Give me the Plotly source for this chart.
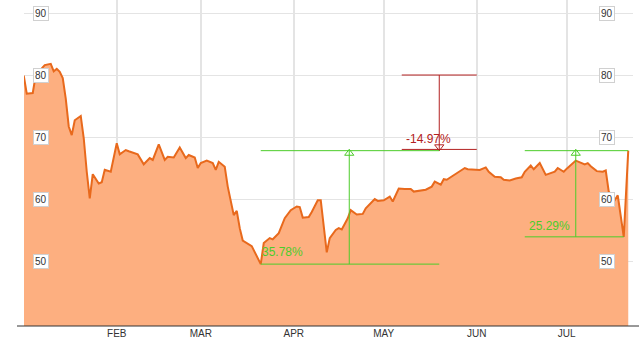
import plotly.graph_objects as go

# ---------------- data ----------------
dates = [
    "2015-01-01", "2015-01-02", "2015-01-04", "2015-01-05", "2015-01-08", "2015-01-10",
    "2015-01-11", "2015-01-12", "2015-01-13", "2015-01-14", "2015-01-15", "2015-01-16",
    "2015-01-17", "2015-01-18", "2015-01-20", "2015-01-21", "2015-01-22", "2015-01-23",
    "2015-01-24", "2015-01-26", "2015-01-27", "2015-01-28", "2015-01-30", "2015-02-01",
    "2015-02-02", "2015-02-04", "2015-02-05", "2015-02-08", "2015-02-10", "2015-02-12",
    "2015-02-13", "2015-02-15", "2015-02-17", "2015-02-18", "2015-02-20", "2015-02-22",
    "2015-02-24", "2015-02-25", "2015-02-27", "2015-02-28", "2015-03-01", "2015-03-03",
    "2015-03-05", "2015-03-06", "2015-03-07", "2015-03-09", "2015-03-10", "2015-03-12",
    "2015-03-13", "2015-03-14", "2015-03-15", "2015-03-17", "2015-03-18", "2015-03-21",
    "2015-03-22", "2015-03-24", "2015-03-25", "2015-03-27", "2015-03-29", "2015-03-31",
    "2015-04-02", "2015-04-03", "2015-04-04", "2015-04-06", "2015-04-07", "2015-04-09",
    "2015-04-10", "2015-04-12", "2015-04-13", "2015-04-15", "2015-04-16", "2015-04-17",
    "2015-04-19", "2015-04-20", "2015-04-22", "2015-04-24", "2015-04-25", "2015-04-28",
    "2015-04-29", "2015-05-01", "2015-05-03", "2015-05-04", "2015-05-06", "2015-05-08",
    "2015-05-10", "2015-05-11", "2015-05-13", "2015-05-15", "2015-05-17", "2015-05-18",
    "2015-05-20", "2015-05-21", "2015-05-22", "2015-05-24", "2015-05-26", "2015-05-28",
    "2015-05-29", "2015-05-31", "2015-06-02", "2015-06-04", "2015-06-05", "2015-06-07",
    "2015-06-09", "2015-06-10", "2015-06-12", "2015-06-14", "2015-06-16", "2015-06-17",
    "2015-06-19", "2015-06-20", "2015-06-22", "2015-06-24", "2015-06-25", "2015-06-27",
    "2015-06-28", "2015-06-30", "2015-07-01", "2015-07-03", "2015-07-04", "2015-07-05",
    "2015-07-07", "2015-07-08", "2015-07-09", "2015-07-11", "2015-07-13", "2015-07-14",
    "2015-07-15", "2015-07-17", "2015-07-18", "2015-07-20", "2015-07-21 12:00",
]
prices = [
    79.9, 77.0, 77.1, 80.0, 81.6, 81.8,
    80.6, 81.0, 80.5, 79.5, 76.2, 71.7,
    70.3, 72.7, 73.4, 69.8, 64.4, 60.1,
    64.0, 62.5, 62.7, 64.7, 64.4, 69.0,
    67.2, 67.9, 67.7, 67.2, 65.6, 66.6,
    66.3, 68.8, 66.3, 66.8, 66.7, 68.3,
    66.6, 67.1, 66.7, 65.0, 65.8, 66.2,
    65.8, 64.7, 66.0, 65.2, 62.0, 57.4,
    58.1, 55.3, 53.3, 52.7, 52.4, 49.5,
    52.9, 53.7, 53.5, 54.5, 56.9, 58.2,
    58.8, 58.7, 57.0, 57.1, 57.9, 59.8,
    59.8, 51.4, 53.7, 55.0, 55.3, 55.1,
    56.9, 58.2, 57.5, 57.6, 58.5, 60.0,
    59.7, 59.8, 60.4, 59.6, 61.7, 61.6,
    61.6, 61.2, 61.3, 61.5, 62.0, 62.8,
    62.3, 63.2, 63.1, 63.7, 64.4, 65.0,
    64.8, 64.7, 64.7, 65.1, 64.4, 63.6,
    63.5, 63.1, 63.0, 63.3, 63.5, 64.4,
    65.4, 64.8, 65.8, 63.9, 64.1, 64.4,
    65.0, 64.4, 64.9, 65.8, 66.2, 66.0,
    65.6, 65.8, 65.3, 64.5, 64.4, 64.6,
    61.2, 59.8, 60.6, 53.9, 67.8,
]

month_ticks = ["2015-02-01", "2015-03-01", "2015-04-01", "2015-05-01", "2015-06-01", "2015-07-01"]
month_labels = ["FEB", "MAR", "APR", "MAY", "JUN", "JUL"]
y_ticks = [50, 60, 70, 80, 90]

# measurement annotations
gain1_start, gain1_end, gain1_arrow = "2015-03-21", "2015-05-19 12:00", "2015-04-19 12:00"
gain1_low, gain1_high, gain1_label = 49.5, 67.8, "35.78%"
loss_start, loss_end, loss_arrow = "2015-05-07", "2015-06-01", "2015-05-19 12:00"
loss_top, loss_bottom, loss_label = 80.0, 68.0, "-14.97%"
gain2_start, gain2_low_end, gain2_high_end, gain2_arrow = "2015-06-17", "2015-07-20", "2015-07-21 12:00", "2015-07-04"
gain2_low, gain2_high, gain2_label = 53.9, 67.8, "25.29%"

# ---------------- style ----------------
W, H = 644, 341
ML, MR, MT, MB = 24, 11, 0, 15
Y_RANGE = [39.52, 92.1]
X_RANGE = ["2015-01-01 02:00", "2015-07-23 02:00"]
PX_PER_UNIT = (H - MT - MB) / (Y_RANGE[1] - Y_RANGE[0])
GREEN = "#4ccc2a"
RED = "#b32020"
FONT = "Liberation Sans, Arial, sans-serif"

fig = go.Figure()
fig.add_trace(go.Scatter(
    x=dates, y=prices, mode="lines", fill="tozeroy",
    fillcolor="#fdaf80", line=dict(color="#e8691c", width=2),
    hoverinfo="skip", showlegend=False,
))

shapes = []
def seg(x0, x1, y0, y1, color):
    shapes.append(dict(type="line", xref="x", yref="y", x0=x0, x1=x1, y0=y0, y1=y1,
                       line=dict(color=color, width=1)))

# gain 1
seg(gain1_start, gain1_end, gain1_low, gain1_low, GREEN)
seg(gain1_start, gain1_end, gain1_high, gain1_high, GREEN)
seg(gain1_arrow, gain1_arrow, gain1_low, gain1_high, GREEN)
# loss
seg(loss_start, loss_end, loss_top, loss_top, RED)
seg(loss_start, loss_end, loss_bottom, loss_bottom, RED)
seg(loss_arrow, loss_arrow, loss_top, loss_bottom, RED)
# gain 2
seg(gain2_start, gain2_low_end, gain2_low, gain2_low, GREEN)
seg(gain2_start, gain2_high_end, gain2_high, gain2_high, GREEN)
seg(gain2_arrow, gain2_arrow, gain2_low, gain2_high, GREEN)

# bottom axis line
shapes.append(dict(type="line", xref="paper", yref="paper",
                   x0=-7 / (W - ML - MR), x1=1 + 6 / (W - ML - MR), y0=0, y1=0,
                   line=dict(color="#333333", width=1)))

head_off = 2.6 / PX_PER_UNIT
fig.add_trace(go.Scatter(
    x=[gain1_arrow, gain2_arrow], y=[gain1_high - head_off, gain2_high - head_off],
    mode="markers", marker=dict(symbol="triangle-up-open", size=8, color=GREEN,
                                line=dict(width=1, color=GREEN)),
    hoverinfo="skip", showlegend=False,
))
fig.add_trace(go.Scatter(
    x=[loss_arrow], y=[loss_bottom + head_off],
    mode="markers", marker=dict(symbol="triangle-down-open", size=8, color=RED,
                                line=dict(width=1, color=RED)),
    hoverinfo="skip", showlegend=False,
))

annotations = []
for txt, xx, yy, col in [
    (gain1_label, "2015-03-21", 51.45, GREEN),
    (loss_label, "2015-05-08", 69.7, RED),
    (gain2_label, "2015-06-18", 55.7, GREEN),
]:
    annotations.append(dict(text=txt, x=xx, y=yy, xref="x", yref="y", xanchor="left",
                            yanchor="middle", showarrow=False,
                            font=dict(family=FONT, size=12, color=col), borderpad=0))

for v in y_ticks:
    for px in (41.3, 606.5):
        annotations.append(dict(text=str(v), x=(px - ML) / (W - ML - MR), y=v,
                                xref="paper", yref="y", xanchor="center", yanchor="middle",
                                showarrow=False, bgcolor="white", bordercolor="#d0d0d0",
                                borderwidth=1, borderpad=1,
                                font=dict(family=FONT, size=10, color="#333333")))

fig.update_layout(
    width=W, height=H, margin=dict(l=ML, r=MR, t=MT, b=MB),
    paper_bgcolor="white", plot_bgcolor="white",
    shapes=shapes, annotations=annotations,
    xaxis=dict(range=X_RANGE, tickvals=month_ticks, ticktext=month_labels,
               showgrid=True, gridcolor="#e4e4e4", gridwidth=1.5, zeroline=False,
               showline=False, ticks="", ticklen=0,
               tickfont=dict(family=FONT, size=10, color="#333333")),
    yaxis=dict(range=Y_RANGE, tickvals=y_ticks, showticklabels=False,
               showgrid=True, gridcolor="#e4e4e4", gridwidth=1, zeroline=False,
               showline=False, ticks=""),
)
fig.write_html("out.html", config={"displayModeBar": False})
